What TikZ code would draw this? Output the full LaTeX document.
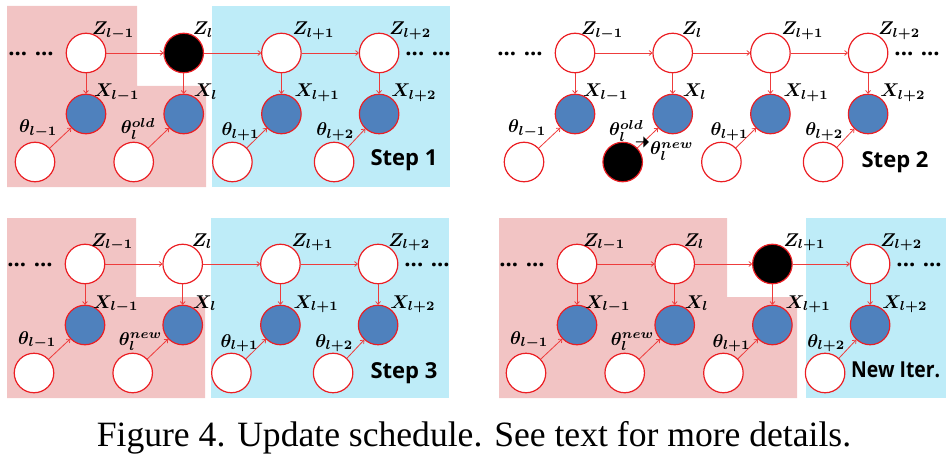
\documentclass[tikz,border=0pt]{standalone}
\usepackage{fontspec}
\usepackage{graphicx}
\setmainfont{Liberation Serif}
\newfontfamily\stepfont{Open Sans}
\newcommand\mlab[1]{\scalebox{1.85}{\boldmath$#1$}}
\usetikzlibrary{arrows.meta,shapes.arrows}
\definecolor{nodered}{RGB}{235,30,35}
\definecolor{arrred}{RGB}{238,60,60}
\definecolor{obsblue}{RGB}{79,129,189}
\definecolor{pinkbg}{RGB}{242,196,196}
\definecolor{bluebg}{RGB}{190,236,248}
\newcommand\gmpanel[6]{%
  % #1 prefix, #2 x of Z_{l-1}, #3 y of Z row, #4 style Z_l, #5 style Z_{l+1}, #6 style theta_l
  \node[zn] (#1z1) at (#2,#3) {};
  \node[#4] (#1z2) at (#2+97.7,#3) {};
  \node[#5] (#1z3) at (#2+195.4,#3) {};
  \node[zn] (#1z4) at (#2+293.1,#3) {};
  \node[xn] (#1x1) at (#2,#3+61) {};
  \node[xn] (#1x2) at (#2+97.7,#3+61) {};
  \node[xn] (#1x3) at (#2+195.4,#3+61) {};
  \node[xn] (#1x4) at (#2+293.1,#3+61) {};
  \node[zn] (#1t1) at (#2-51,#3+109) {};
  \node[#6] (#1t2) at (#2+97.7-50,#3+109) {};
  \node[zn] (#1t3) at (#2+195.4-49,#3+109) {};
  \node[zn] (#1t4) at (#2+293.1-45,#3+109) {};
  \draw[arr] (#1z1) -- (#1z2);
  \draw[arr] (#1z2) -- (#1z3);
  \draw[arr] (#1z3) -- (#1z4);
  \draw[arr] (#1z1) -- (#1x1);
  \draw[arr] (#1z2) -- (#1x2);
  \draw[arr] (#1z3) -- (#1x3);
  \draw[arr] (#1z4) -- (#1x4);
  \draw[arr] (#1t1) -- (#1x1);
  \draw[arr] (#1t2) -- (#1x2);
  \draw[arr] (#1t3) -- (#1x3);
  \draw[arr] (#1t4) -- (#1x4);
  \node[dotlbl] (#1dl) at (#2-55,#3+1) {... ...};
  \node[dotlbl] (#1dr) at (#2+293.1+49,#3+1) {... ...};
  \node[lbl] (#1lz1) at (#2+6,#3-18) {\mlab{Z_{l-1}}};
  \node[lbl] (#1lz2) at (#2+97.7+9,#3-18) {\mlab{Z_{l}}};
  \node[lbl] (#1lz3) at (#2+195.4+11,#3-18) {\mlab{Z_{l+1}}};
  \node[lbl] (#1lz4) at (#2+293.1+10,#3-18) {\mlab{Z_{l+2}}};
  \node[lbl] (#1lx1) at (#2+8,#3+61-17) {\mlab{X_{l-1}}};
  \node[lbl] (#1lx2) at (#2+97.7+10,#3+61-17) {\mlab{X_{l}}};
  \node[lbl] (#1lx3) at (#2+195.4+13,#3+61-17) {\mlab{X_{l+1}}};
  \node[lbl] (#1lx4) at (#2+293.1+12,#3+61-17) {\mlab{X_{l+2}}};
  \node[lbl] (#1lt1) at (#2-51-16,#3+109-29) {\mlab{\theta_{l-1}}};
  \node[lbl] (#1lt3) at (#2+195.4-49-11,#3+109-26) {\mlab{\theta_{l+1}}};
  \node[lbl] (#1lt4) at (#2+293.1-45-18,#3+109-26) {\mlab{\theta_{l+2}}};
}
\begin{document}
\begin{tikzpicture}[x=1pt,y=-1pt,
  zn/.style={circle,draw=nodered,line width=1.2pt,fill=white,minimum size=39.5pt,inner sep=0pt},
  xn/.style={zn,fill=obsblue},
  bn/.style={zn,fill=black},
  arr/.style={draw=arrred,line width=0.8pt,-{To[length=3.5pt,width=5.5pt]}},
  lbl/.style={anchor=base west,inner sep=0pt,font=\fontsize{10}{12}\selectfont},
  dotlbl/.style={inner sep=0pt,font=\stepfont\bfseries\fontsize{22}{24}\selectfont},
  steplbl/.style={inner sep=0pt,font=\stepfont\bfseries\fontsize{22}{24}\selectfont},
  pinkbox/.style={fill=pinkbg,draw=none},
  bluebox/.style={fill=bluebg,draw=none}]
\useasboundingbox (0,0) rectangle (949,457);
% backgrounds
\fill[pinkbox] (7,6) -- (137,6) -- (137,86) -- (206,86) -- (206,187) -- (7,187) -- cycle;
\fill[bluebox] (212,6) rectangle (450,187);
\fill[pinkbox] (7,218) -- (136,218) -- (136,297) -- (205,297) -- (205,398) -- (7,398) -- cycle;
\fill[bluebox] (211,218) rectangle (449,398);
\fill[pinkbox] (499,218) -- (727,218) -- (727,297) -- (797,297) -- (797,398) -- (499,398) -- cycle;
\fill[bluebox] (806,218) rectangle (946,398);
% panels
\gmpanel{a}{86}{53}{bn}{zn}{zn}
\gmpanel{b}{575}{53}{zn}{zn}{bn}
\gmpanel{c}{85}{264}{zn}{zn}{zn}
\gmpanel{d}{577}{264}{zn}{bn}{zn}
% theta_l labels
\node[lbl] (alt2) at (86+97.7-50-13,134) {\mlab{\theta_{l}^{old}}};
\node[lbl] (blt2) at (609,136) {\mlab{\theta_{l}^{old}}};
\node[lbl] (blt2n) at (650,155) {\mlab{\theta_{l}^{new}}};
\node[single arrow,fill=black,draw=none,minimum height=13pt,minimum width=11pt,single arrow head extend=2pt,inner sep=0pt] (barr) at (642,142) {};
\node[lbl] (clt2) at (85+97.7-50-14,345) {\mlab{\theta_{l}^{new}}};
\node[lbl] (dlt2) at (577+97.7-50-14,345) {\mlab{\theta_{l}^{new}}};
% step labels
\node[steplbl] (s1) at (404,160) {Step 1};
\node[steplbl] (s2) at (895,162) {Step 2};
\node[steplbl] (s3) at (404,373) {Step 3};
\node[steplbl,anchor=west] (s4) at (851,370) {\scalebox{0.88}[1]{New Iter.}};
% caption
\node[anchor=base,inner sep=0pt,font=\fontsize{35.6}{40}\selectfont] (cap) at (474,446) {Figure 4. Update schedule. See text for more details.};
\end{tikzpicture}
\end{document}
